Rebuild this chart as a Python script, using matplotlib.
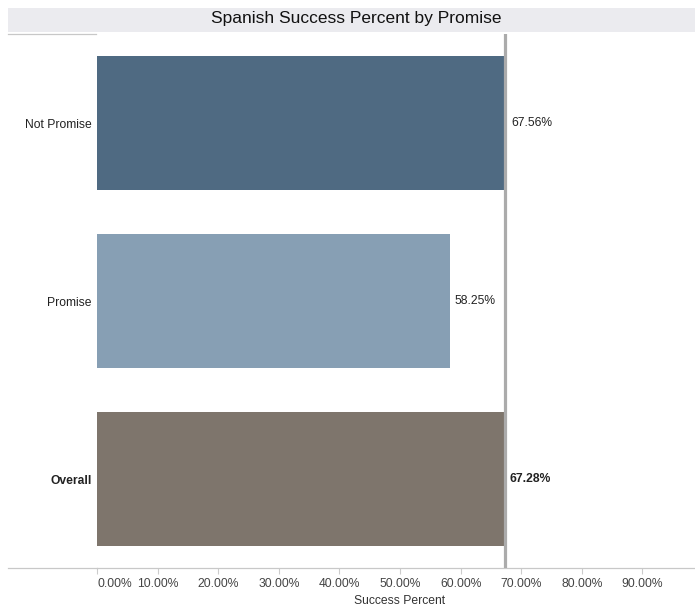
import matplotlib
matplotlib.use('Agg')
import matplotlib.pyplot as plt
import matplotlib.ticker as ticker
from matplotlib.patches import Rectangle
from matplotlib.lines import Line2D

# ── data ──
categories = ['Not Promise', 'Promise', 'Overall']
success_pct = [67.56, 58.25, 67.28]
bar_colors = ['#4f6a82', '#879fb4', '#7e756c']
overall_ref = 67.28
tick_vals = [0, 10, 20, 30, 40, 50, 60, 70, 80, 90]

plt.rcParams['font.family'] = ['Liberation Sans', 'DejaVu Sans']

W, H = 695, 611
fig = plt.figure(figsize=(W / 100, H / 100), dpi=100, facecolor='white')
ax = fig.add_axes([97 / W, 1 - 568 / H, (694 - 97) / W, (568 - 34) / H])

y = list(range(len(categories)))
ax.barh(y, success_pct, height=0.75, color=bar_colors, zorder=2)
ax.set_ylim(2.5, -0.5)
ax.set_xlim(0, (694 - 97) / 6.06)

# reference line (overall)
ax.axvline(overall_ref, color='#ababab', linewidth=2.3, zorder=3)

# value labels
for i, (v, c) in enumerate(zip(success_pct, categories)):
    bold = 'bold' if c == 'Overall' else 'normal'
    xpos = max(v, overall_ref) if c != 'Promise' else v
    ax.annotate(f'{v:.2f}%', xy=(xpos, i), xytext=(3.4, 0), textcoords='offset points',
                va='center', ha='left', fontsize=8.7, fontweight=bold, color='#222222')

# category labels
ax.set_yticks(y)
ax.set_yticklabels(categories, fontsize=8.7, color='#222222')
for lbl in ax.get_yticklabels():
    if lbl.get_text() == 'Overall':
        lbl.set_fontweight('bold')
ax.tick_params(axis='y', length=0, pad=4)

# x axis
ax.set_xticks(tick_vals)
ax.set_xticklabels([f'{t:.2f}%' for t in tick_vals], fontsize=8.7, color='#444444')
ax.get_xticklabels()[0].set_horizontalalignment('left')
ax.tick_params(axis='x', length=4, color='#cccccc', width=0.8, pad=3)
ax.set_xlabel('Success Percent', fontsize=8.7, color='#333333')
ax.xaxis.set_label_coords((400 - 97) / (694 - 97), -(601 - 568) / (568 - 34))
ax.xaxis.label.set_va('center')

for s in ['top', 'right', 'left']:
    ax.spines[s].set_visible(False)
ax.spines['bottom'].set_color('#c8c8c8')
ax.spines['bottom'].set_linewidth(0.9)

# extend bottom line and header line to the left
fig.add_artist(Line2D([8 / W, 97 / W], [1 - 568 / H, 1 - 568 / H],
                      color='#c8c8c8', linewidth=0.9))
fig.add_artist(Line2D([8 / W, 96 / W], [1 - 34 / H, 1 - 34 / H],
                      color='#c8c8c8', linewidth=0.9))

# title bar
fig.add_artist(Rectangle((8 / W, 1 - 32 / H), (695 - 8) / W, 24 / H,
                         facecolor='#ebebef', edgecolor='none'))
fig.text(356 / W, 1 - 19 / H, 'Spanish Success Percent by Promise',
         ha='center', va='center', fontsize=12.5, color='#111111')

fig.savefig('out.png', dpi=100, facecolor='white')
